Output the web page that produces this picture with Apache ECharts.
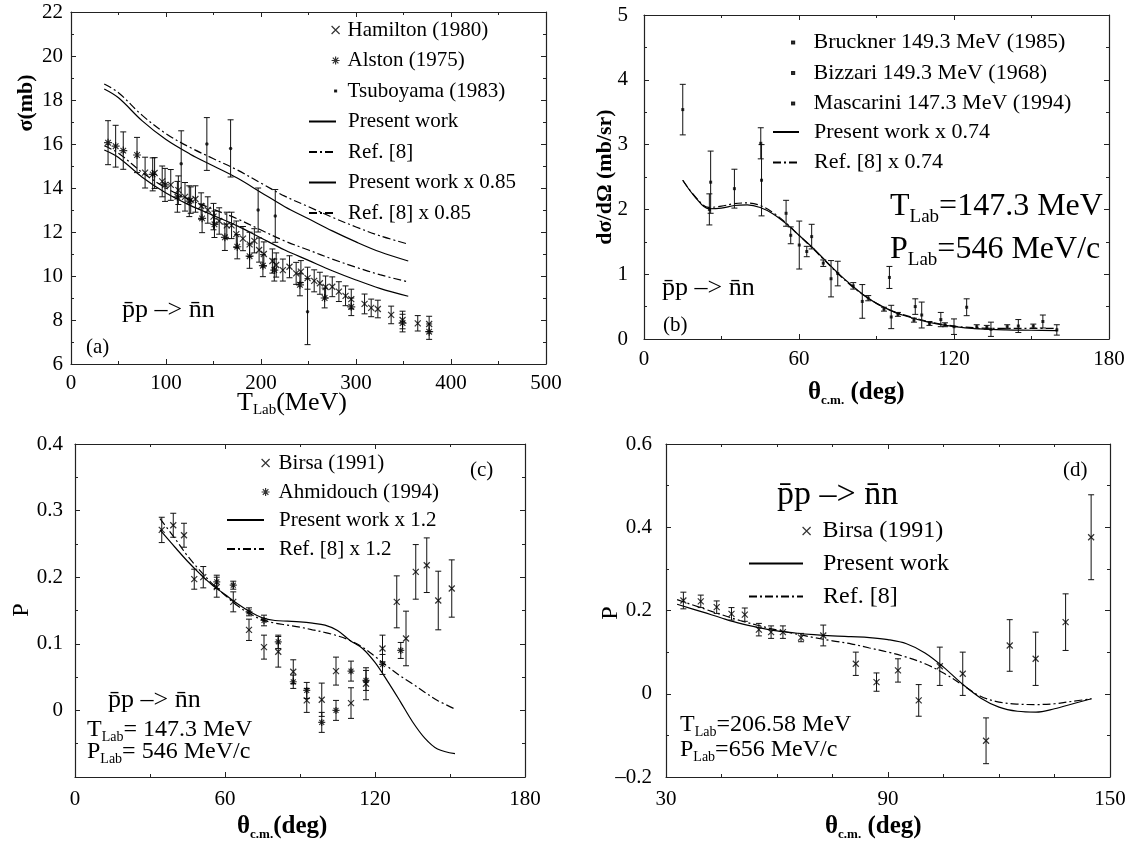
<!DOCTYPE html>
<html>
<head>
<meta charset="utf-8">
<script src="https://cdn.jsdelivr.net/npm/echarts@6/dist/echarts.min.js"></script>
<style>
	html, body { margin: 0; padding: 0; background: #fff; }
	#chartDom { width: 1133px; height: 843px; }
</style>
</head>
<body>
<div id="chartDom"></div>
<script>
var FONT = '"Liberation Serif", "Times New Roman", serif';

// (a) total cross section, T_Lab in MeV
var aCurveT = [35, 50, 75, 100, 125, 150, 175, 200, 225, 250, 275, 300, 325, 355];
var aPresent = [18.5, 18.1, 17.05, 16.2, 15.55, 15.0, 14.45, 13.8, 13.15, 12.6, 12.05, 11.55, 11.1, 10.68];
var aRef = [18.73, 18.33, 17.3, 16.47, 15.85, 15.33, 14.82, 14.22, 13.63, 13.15, 12.67, 12.23, 11.83, 11.45];
var aPresent85 = [15.73, 15.39, 14.49, 13.77, 13.22, 12.75, 12.28, 11.73, 11.18, 10.71, 10.24, 9.82, 9.44, 9.08];
var aRef85 = [15.92, 15.58, 14.71, 14.0, 13.47, 13.03, 12.6, 12.09, 11.59, 11.18, 10.77, 10.4, 10.06, 9.73];
// [T, sigma, error]
var hamilton = [[78, 14.7, 0.7], [88, 14.68, 0.7], [96, 14.3, 0.7], [105, 14.14, 0.7], [113, 13.9, 0.65], [120, 13.6, 0.65],
	[126, 13.45, 0.6], [131, 13.5, 0.6], [137, 13.18, 0.6], [144, 13.0, 0.6], [150, 12.7, 0.6], [156, 12.5, 0.6],
	[164, 12.3, 0.6], [169, 12.3, 0.6], [174, 11.9, 0.6], [181, 11.7, 0.55], [188, 11.44, 0.55], [193, 11.6, 0.55],
	[198, 11.18, 0.55], [203, 11.0, 0.55], [212, 10.68, 0.55], [216, 10.5, 0.55], [223, 10.27, 0.5], [230, 10.42, 0.5],
	[237, 10.12, 0.5], [242, 10.2, 0.5], [249, 9.9, 0.5], [256, 9.78, 0.5], [262, 9.67, 0.5], [268, 9.5, 0.5],
	[275, 9.51, 0.45], [282, 9.29, 0.45], [289, 9.1, 0.45], [295, 8.95, 0.45], [309, 8.73, 0.45], [316, 8.55, 0.4],
	[323, 8.5, 0.4], [337, 8.23, 0.4], [349, 8.0, 0.4], [365, 7.85, 0.35], [377, 7.82, 0.35]];
var alston = [[39, 16.06, 1.0], [47, 15.9, 0.95], [55, 15.7, 0.85], [69.5, 15.5, 0.8], [86, 14.62, 0.75], [99, 14.14, 0.75],
	[112, 13.6, 0.7], [124.5, 13.4, 0.7], [138, 12.62, 0.65], [151, 12.35, 0.6], [162, 11.76, 0.6], [175, 11.33, 0.55],
	[188, 10.9, 0.55], [202, 10.47, 0.5], [214, 10.27, 0.5], [241, 9.6, 0.5], [267, 9.0, 0.45], [295, 8.6, 0.4],
	[349, 7.86, 0.4], [377, 7.47, 0.35]];
var tsuboyama = [[116, 15.1, 1.5], [143, 16.0, 1.2], [168, 15.8, 1.3], [197, 13.0, 1.0], [215, 12.73, 1.2], [249, 8.38, 1.5]];

// (b) differential cross section
var bTheta = [15, 20, 25, 30, 35, 40, 45, 50, 55, 60, 65, 70, 75, 80, 85, 90, 95, 100, 110, 120, 130, 140, 150, 160];
var bPresent = [2.45, 2.18, 2.01, 2.02, 2.06, 2.07, 2.03, 1.93, 1.78, 1.6, 1.42, 1.22, 1.02, 0.84, 0.68, 0.55, 0.45, 0.37, 0.26, 0.19, 0.155, 0.14, 0.135, 0.13];
var bRef = [2.45, 2.19, 2.03, 2.05, 2.09, 2.1, 2.06, 1.95, 1.79, 1.6, 1.41, 1.21, 1.01, 0.83, 0.68, 0.55, 0.45, 0.38, 0.27, 0.2, 0.17, 0.165, 0.165, 0.165];
var bruckner = [[15, 3.54, 0.39], [25.8, 2.42, 0.48], [35, 2.32, 0.3], [45.5, 2.45, 0.55], [60.1, 1.45, 0.37],
	[72.4, 0.93, 0.28], [84.5, 0.58, 0.26], [95.7, 0.34, 0.18], [107.5, 0.37, 0.2]];
var bizzari = [[25.3, 2.0, 0.24], [45.2, 3.02, 0.24], [55, 1.94, 0.2], [64.9, 1.58, 0.19], [75, 1.01, 0.19], [95, 0.95, 0.17],
	[105, 0.5, 0.12], [124.9, 0.49, 0.13], [144.9, 0.2, 0.1], [154.4, 0.27, 0.1]];
var mascarini = [[56.8, 1.6, 0.13], [63, 1.35, 0.08], [69.4, 1.17, 0.05], [81, 0.82, 0.05], [86.8, 0.63, 0.04], [92.9, 0.46, 0.03],
	[98.3, 0.38, 0.03], [104.5, 0.29, 0.03], [110.5, 0.24, 0.03], [114.9, 0.3, 0.11], [116.5, 0.22, 0.03], [120, 0.19, 0.12],
	[128.8, 0.19, 0.03], [132.7, 0.18, 0.03], [134.3, 0.15, 0.11], [140.6, 0.19, 0.03], [150.7, 0.2, 0.03], [159.8, 0.14, 0.08]];

// (c) polarization 147.3 MeV
var cTheta = [34, 40, 45, 50, 55, 60, 65, 70, 75, 80, 85, 90, 95, 100, 105, 110, 115, 120, 125, 130, 135, 140, 145, 152];
var cPresent = [0.271, 0.245, 0.224, 0.205, 0.188, 0.174, 0.16, 0.148, 0.139, 0.135, 0.134, 0.133, 0.131, 0.128, 0.12, 0.105,
	0.093, 0.072, 0.044, 0.014, -0.017, -0.042, -0.058, -0.065];
var cRef = [0.288, 0.258, 0.232, 0.21, 0.19, 0.173, 0.157, 0.145, 0.136, 0.131, 0.128, 0.125, 0.121, 0.117, 0.112, 0.105,
	0.095, 0.081, 0.066, 0.052, 0.04, 0.027, 0.015, 0.002];
var cBirsa = [[34.7, 0.271, 0.019], [39.3, 0.278, 0.018], [43.6, 0.263, 0.018], [47.7, 0.197, 0.015], [51.3, 0.2, 0.016],
	[56.7, 0.185, 0.015], [63.3, 0.163, 0.015], [69.6, 0.121, 0.016], [75.6, 0.095, 0.018], [81.3, 0.088, 0.023],
	[87.3, 0.058, 0.018], [92.7, 0.015, 0.018], [98.7, 0.016, 0.025], [104.4, 0.059, 0.021], [110.4, 0.011, 0.023],
	[116.4, 0.04, 0.024], [123, 0.093, 0.02], [128.7, 0.163, 0.039], [132.4, 0.108, 0.041], [136.3, 0.208, 0.041],
	[140.7, 0.218, 0.041], [145.3, 0.165, 0.044], [150.7, 0.183, 0.043]];
var cAhmidouch = [[56.7, 0.193, 0.01], [63.3, 0.188, 0.006], [69.6, 0.148, 0.006], [75.6, 0.135, 0.008], [81.3, 0.103, 0.01],
	[87.3, 0.043, 0.01], [92.7, 0.03, 0.012], [98.7, -0.018, 0.015], [104.4, 0.0, 0.015], [110.4, 0.059, 0.015],
	[116.4, 0.045, 0.015], [123, 0.069, 0.015], [130.3, 0.09, 0.012]];

// (d) polarization 206.58 MeV
var dTheta = [33, 40, 45, 50, 55, 60, 65, 70, 75, 80, 85, 90, 95, 100, 105, 110, 115, 120, 125, 130, 135, 140, 145];
var dPresent = [0.215, 0.196, 0.182, 0.169, 0.159, 0.151, 0.146, 0.142, 0.139, 0.137, 0.135, 0.13, 0.12, 0.098, 0.064, 0.024,
	-0.01, -0.032, -0.042, -0.044, -0.036, -0.024, -0.012];
var dRef = [0.226, 0.205, 0.19, 0.176, 0.164, 0.153, 0.144, 0.135, 0.127, 0.12, 0.11, 0.1, 0.088, 0.072, 0.05, 0.022,
	-0.006, -0.02, -0.025, -0.026, -0.024, -0.018, -0.012];
var dBirsa = [[34.7, 0.224, 0.02], [39.4, 0.222, 0.015], [43.7, 0.208, 0.015], [47.7, 0.192, 0.015], [51.3, 0.19, 0.016],
	[55.1, 0.154, 0.015], [58.4, 0.148, 0.015], [61.6, 0.148, 0.015], [66.5, 0.135, 0.01], [72.5, 0.14, 0.025],
	[81.3, 0.072, 0.028], [86.9, 0.028, 0.022], [92.7, 0.056, 0.028], [98.3, -0.016, 0.038], [104, 0.066, 0.046],
	[110.2, 0.048, 0.052], [116.5, -0.113, 0.055], [122.9, 0.116, 0.062], [129.9, 0.084, 0.064], [138, 0.172, 0.068],
	[144.9, 0.376, 0.102]];

var CROSS = 'path://M0,0L10,10M10,0L0,10';
var STAR = 'path://M5,0L5,10M0,5L10,5M1.5,1.5L8.5,8.5M8.5,1.5L1.5,8.5';
// a small dot framed in a 10x10 box, so that the legend keeps it small
var DOT_ICON = 'path://M0,0M10,10M3.8,3.8L6.2,3.8L6.2,6.2L3.8,6.2Z';
var DASHDOT = [8, 3, 2, 3];

drawChart();

function drawChart() {
	var myChart = echarts.init(document.getElementById('chartDom'));
	var xAxes = [], yAxes = [];

	function mkAxis(g, pos, r, labels) {
		return {
			gridIndex: g,
			type: 'value',
			position: pos,
			min: r.min,
			max: r.max,
			interval: r.interval,
			axisLine: { show: true, onZero: false, lineStyle: { color: '#222', width: 1.2 } },
			axisTick: { show: true, inside: true, length: 5, lineStyle: { color: '#222', width: 1 } },
			minorTick: { show: true, splitNumber: r.minor, length: 3, lineStyle: { color: '#222', width: 1 } },
			splitLine: { show: false },
			axisLabel: {
				show: labels,
				margin: r.margin,
				color: '#000',
				fontFamily: FONT,
				fontSize: 21,
				formatter: r.fmt
			}
		};
	}

	function addAxes(g, xr, yr) {
		xAxes.push(mkAxis(g, 'bottom', xr, true), mkAxis(g, 'top', xr, false));
		yAxes.push(mkAxis(g, 'left', yr, true), mkAxis(g, 'right', yr, false));
	}

	addAxes(0, { min: 0, max: 500, interval: 100, minor: 2, margin: 9 }, { min: 6, max: 22, interval: 2, minor: 2, margin: 8 });
	addAxes(1, { min: 0, max: 180, interval: 60, minor: 2, margin: 10 }, { min: 0, max: 5, interval: 1, minor: 2, margin: 16 });
	addAxes(2, { min: 0, max: 180, interval: 60, minor: 2, margin: 12 }, {
		min: -0.1, max: 0.4, interval: 0.1, minor: 2, margin: 12,
		fmt: function(v) { return v < -0.05 ? '' : (Math.abs(v) < 1e-9 ? '0' : v.toFixed(1)); }
	});
	addAxes(3, { min: 30, max: 150, interval: 60, minor: 4, margin: 12 }, {
		min: -0.2, max: 0.6, interval: 0.2, minor: 2, margin: 14,
		fmt: function(v) { return v < -0.1 ? '\u2013' + Math.abs(v).toFixed(1) : (Math.abs(v) < 1e-9 ? '0' : v.toFixed(1)); }
	});

	function lineS(name, g, xs, ys, dashed) {
		return {
			name: name,
			type: 'line',
			xAxisIndex: 2 * g,
			yAxisIndex: 2 * g,
			data: xs.map(function(x, i) { return [x, ys[i]]; }),
			smooth: 0.35,
			symbol: 'none',
			silent: true,
			itemStyle: { color: '#000' },
			lineStyle: { color: '#000', width: 1.2, type: dashed ? DASHDOT : 'solid' },
			z: 3
		};
	}

	function pointS(name, g, pts, symbol, size, filled) {
		return {
			name: name,
			type: 'scatter',
			xAxisIndex: 2 * g,
			yAxisIndex: 2 * g,
			data: pts.map(function(p) { return [p[0], p[1]]; }),
			symbol: symbol,
			symbolSize: size,
			silent: true,
			itemStyle: filled ? { color: '#000' } : { color: 'transparent', borderColor: '#000', borderWidth: 1.2 },
			z: 5
		};
	}

	function errS(name, g, pts) {
		return {
			name: name + ' err',
			type: 'custom',
			xAxisIndex: 2 * g,
			yAxisIndex: 2 * g,
			data: pts,
			encode: { x: 0, y: 1 },
			silent: true,
			z: 4,
			renderItem: function(params, api) {
				var x = api.value(0), y = api.value(1), e = api.value(2);
				var lo = api.coord([x, y - e]);
				var hi = api.coord([x, y + e]);
				var w = 3, st = { stroke: '#111', lineWidth: 1 };
				return {
					type: 'group',
					children: [
						{ type: 'line', shape: { x1: lo[0], y1: lo[1], x2: hi[0], y2: hi[1] }, style: st },
						{ type: 'line', shape: { x1: lo[0] - w, y1: lo[1], x2: lo[0] + w, y2: lo[1] }, style: st },
						{ type: 'line', shape: { x1: hi[0] - w, y1: hi[1], x2: hi[0] + w, y2: hi[1] }, style: st }
					]
				};
			}
		};
	}

	var series = [
		lineS('Present work', 0, aCurveT, aPresent, false),
		lineS('Ref. [8]', 0, aCurveT, aRef, true),
		lineS('Present work x 0.85', 0, aCurveT, aPresent85, false),
		lineS('Ref. [8] x 0.85', 0, aCurveT, aRef85, true),
		errS('Hamilton (1980)', 0, hamilton), pointS('Hamilton (1980)', 0, hamilton, CROSS, 6, false),
		errS('Alston (1975)', 0, alston), pointS('Alston (1975)', 0, alston, STAR, 8, false),
		errS('Tsuboyama (1983)', 0, tsuboyama), pointS('Tsuboyama (1983)', 0, tsuboyama, 'circle', 3.5, true),

		lineS('Present work x 0.74', 1, bTheta, bPresent, false),
		lineS('Ref. [8] x 0.74', 1, bTheta, bRef, true),
		errS('Bruckner 149.3 MeV (1985)', 1, bruckner), pointS('Bruckner 149.3 MeV (1985)', 1, bruckner, 'rect', 3, true),
		errS('Bizzari 149.3 MeV (1968)', 1, bizzari), pointS('Bizzari 149.3 MeV (1968)', 1, bizzari, 'rect', 3, true),
		errS('Mascarini 147.3 MeV (1994)', 1, mascarini), pointS('Mascarini 147.3 MeV (1994)', 1, mascarini, 'rect', 3, true),

		lineS('Present work x 1.2', 2, cTheta, cPresent, false),
		lineS('Ref. [8] x 1.2', 2, cTheta, cRef, true),
		errS('Birsa (1991)', 2, cBirsa), pointS('Birsa (1991)', 2, cBirsa, CROSS, 6, false),
		errS('Ahmidouch (1994)', 2, cAhmidouch), pointS('Ahmidouch (1994)', 2, cAhmidouch, STAR, 7, false),

		lineS('Present work', 3, dTheta, dPresent, false),
		lineS('Ref. [8]', 3, dTheta, dRef, true),
		errS('Birsa (1991) d', 3, dBirsa), pointS('Birsa (1991)', 3, dBirsa, CROSS, 6, false)
	];

	function legendBox(names, left, top, w, h, size, gap, pad, lines) {
		return {
			data: names,
			orient: 'vertical',
			left: left,
			top: top,
			padding: 0,
			itemWidth: w,
			itemHeight: h,
			itemGap: gap,
			selectedMode: false,
			// line entries: hide the symbol, keep only the line sample
			itemStyle: lines ? { color: 'transparent', borderColor: 'transparent', borderWidth: 0, opacity: 0 } : { borderColor: '#000', borderWidth: 1.2 },
			textStyle: { color: '#000', fontFamily: FONT, fontSize: size, lineHeight: size + 1, padding: [0, 0, 0, pad] }
		};
	}

	// little text runs with subscripts
	var measureCtx = document.createElement('canvas').getContext('2d');
	function run(x, y, parts) {
		var out = [];
		parts.forEach(function(p) {
			var weight = p[3] ? 'bold' : 'normal';
			out.push({
				type: 'text', x: x, y: y + (p[2] || 0), z: 10, silent: true,
				style: { text: p[0], fontSize: p[1], fontFamily: FONT, fontWeight: weight, fill: '#000', align: 'left', verticalAlign: 'middle' }
			});
			measureCtx.font = weight + ' ' + p[1] + 'px ' + FONT;
			x += measureCtx.measureText(p[0]).width;
		});
		return out;
	}
	function vtext(x, y, t, size, bold) {
		return {
			type: 'text', x: x, y: y, rotation: Math.PI / 2, z: 10, silent: true,
			style: { text: t, fontSize: size, fontFamily: FONT, fontWeight: bold ? 'bold' : 'normal', fill: '#000', align: 'center', verticalAlign: 'middle' }
		};
	}
	var reaction = 'p\u0304p \u2013> n\u0304n';

	var graphic = [].concat(
		run(122, 310, [[reaction, 26]]),
		run(86, 347, [['(a)', 21]]),
		run(237, 403, [['T', 26], ['Lab', 15, 7], ['(MeV)', 26]]),
		[vtext(26, 103, '\u03c3(mb)', 22, true)],

		run(662, 288, [[reaction, 26]]),
		run(663, 325, [['(b)', 21]]),
		run(890, 207, [['T', 32], ['Lab', 19, 10], ['=147.3 MeV', 32]]),
		run(890, 250, [['P', 32], ['Lab', 19, 10], ['=546 MeV/c', 32]]),
		run(808, 393, [['\u03b8', 25, 0, true], ['c.m.', 13, 8, true], [' (deg)', 25, 0, true]]),
		[vtext(605, 177, 'd\u03c3/d\u03a9 (mb/sr)', 22, true)],

		run(470, 470, [['(c)', 21]]),
		run(108, 700, [[reaction, 26]]),
		run(87, 730, [['T', 24], ['Lab', 14, 7], ['= 147.3 MeV', 24]]),
		run(87, 752, [['P', 24], ['Lab', 14, 7], ['= 546 MeV/c', 24]]),
		run(237, 827, [['\u03b8', 25, 0, true], ['c.m.', 13, 8, true], ['(deg)', 25, 0, true]]),
		[vtext(22, 610, 'P', 24, false)],

		run(1063, 470, [['(d)', 21]]),
		run(777, 495, [[reaction, 34]]),
		run(680, 725, [['T', 24], ['Lab', 14, 7], ['=206.58 MeV', 24]]),
		run(680, 750, [['P', 24], ['Lab', 14, 7], ['=656 MeV/c', 24]]),
		run(825, 827, [['\u03b8', 25, 0, true], ['c.m.', 13, 8, true], [' (deg)', 25, 0, true]]),
		[vtext(611, 613, 'P', 24, false)]
	);

	var option = {
		backgroundColor: '#fff',
		animation: false,
		grid: [
			{ left: 71, top: 12, width: 475, height: 352, containLabel: false, outerBoundsMode: 'none' },
			{ left: 644, top: 15, width: 465, height: 324, containLabel: false, outerBoundsMode: 'none' },
			{ left: 75, top: 444, width: 450, height: 333, containLabel: false, outerBoundsMode: 'none' },
			{ left: 666, top: 444, width: 444, height: 333, containLabel: false, outerBoundsMode: 'none' }
		],
		xAxis: xAxes,
		yAxis: yAxes,
		legend: [
			legendBox(['Hamilton (1980)', 'Alston (1975)', { name: 'Tsuboyama (1983)', icon: DOT_ICON }], 331, 19, 8, 8, 21, 8.5, 3, false),
			legendBox(['Present work', 'Ref. [8]', 'Present work x 0.85', 'Ref. [8] x 0.85'], 308, 110.5, 27, 10, 21, 8.5, 7, true),
			legendBox(['Bruckner 149.3 MeV (1985)', 'Bizzari 149.3 MeV (1968)', 'Mascarini 147.3 MeV (1994)'], 791, 31, 3, 3, 22, 7.5, 14, false),
			legendBox(['Present work x 0.74', 'Ref. [8] x 0.74'], 772, 120.5, 26, 10, 22, 7.5, 10, true),
			legendBox(['Birsa (1991)', 'Ahmidouch (1994)'], 261, 452, 8, 8, 21, 7, 4, false),
			legendBox(['Present work x 1.2', 'Ref. [8] x 1.2'], 226, 509, 37, 10, 21, 7, 10, true),
			legendBox(['Birsa (1991)'], 802, 518.5, 8, 8, 24, 8, 7, false),
			legendBox(['Present work', 'Ref. [8]'], 748, 551, 54, 10, 24, 8, 15, true)
		],
		graphic: graphic,
		series: series
	};
	myChart.setOption(option, true);
}
</script>
</body>
</html>
